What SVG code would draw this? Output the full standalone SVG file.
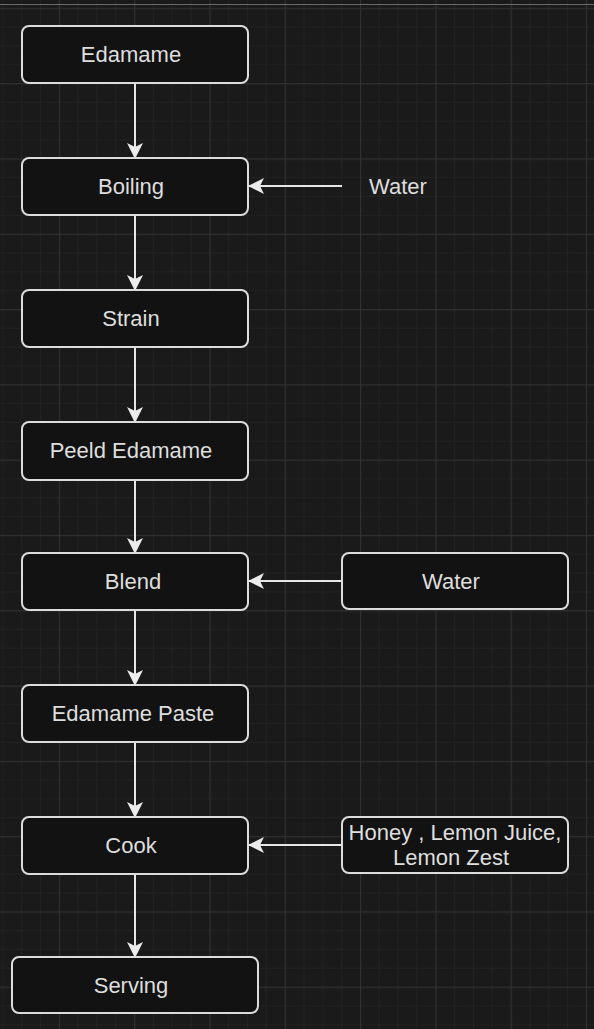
<svg xmlns="http://www.w3.org/2000/svg" width="594" height="1029" viewBox="0 0 594 1029">
  <style>
    .box { fill: #121212; stroke: #dcdcdc; stroke-width: 2; }
    .lbl { font-family: "Liberation Sans", Arial, sans-serif; font-size: 22px; fill: #dedede; text-anchor: middle; }
    .edge { stroke: #e6e6e6; stroke-width: 2; fill: none; marker-end: url(#arrow); }
  </style>
  <defs>
    <!-- background grid: 4 minor cells per major cell -->
    <pattern id="grid" patternUnits="userSpaceOnUse" x="58.8" y="7.8" width="75.3" height="75.3">
      <rect width="75.3" height="75.3" fill="#1a1a1a"/>
      <g fill="#212121">
        <rect x="18.8" y="0" width="1" height="75.3"/>
        <rect x="37.6" y="0" width="1" height="75.3"/>
        <rect x="56.4" y="0" width="1" height="75.3"/>
        <rect x="0" y="18.8" width="75.3" height="1"/>
        <rect x="0" y="37.6" width="75.3" height="1"/>
        <rect x="0" y="56.4" width="75.3" height="1"/>
      </g>
      <g fill="#303030">
        <rect x="0" y="0" width="1.2" height="75.3"/>
        <rect x="0" y="0" width="75.3" height="1.2"/>
      </g>
    </pattern>
    <marker id="arrow" markerUnits="userSpaceOnUse" viewBox="0 0 16 16" refX="15" refY="8" markerWidth="16" markerHeight="16" orient="auto">
      <path d="M0,0 L16,8 L0,16 L4,8 Z" fill="#ececec"/>
    </marker>
  </defs>

  <rect width="594" height="1029" fill="url(#grid)"/>
  <rect x="0" y="4" width="594" height="1" fill="#6a6a6a"/>

  <g id="connectors">
    <line class="edge" x1="135" y1="83" x2="135" y2="158"/>
    <line class="edge" x1="342" y1="186" x2="249" y2="186"/>
    <line class="edge" x1="135" y1="215" x2="135" y2="290"/>
    <line class="edge" x1="135" y1="347" x2="135" y2="422"/>
    <line class="edge" x1="135" y1="480" x2="135" y2="553"/>
    <line class="edge" x1="342" y1="581" x2="249" y2="581"/>
    <line class="edge" x1="135" y1="610" x2="135" y2="685"/>
    <line class="edge" x1="135" y1="742" x2="135" y2="817"/>
    <line class="edge" x1="342" y1="845" x2="249" y2="845"/>
    <line class="edge" x1="135" y1="874" x2="135" y2="957"/>
  </g>

  <g id="edamame">
    <rect class="box" x="22" y="26" width="226" height="57" rx="7"/>
    <text class="lbl" x="131" y="62">Edamame</text>
  </g>
  <g id="boiling">
    <rect class="box" x="22" y="158" width="226" height="57" rx="7"/>
    <text class="lbl" x="131" y="194">Boiling</text>
  </g>
  <g id="water-label">
    <text class="lbl" x="398" y="194">Water</text>
  </g>
  <g id="strain">
    <rect class="box" x="22" y="290" width="226" height="57" rx="7"/>
    <text class="lbl" x="131" y="326">Strain</text>
  </g>
  <g id="peeld-edamame">
    <rect class="box" x="22" y="422" width="226" height="58" rx="7"/>
    <text class="lbl" x="131" y="458">Peeld Edamame</text>
  </g>
  <g id="blend">
    <rect class="box" x="22" y="553" width="226" height="57" rx="7"/>
    <text class="lbl" x="133" y="589">Blend</text>
  </g>
  <g id="water">
    <rect class="box" x="342" y="553" width="226" height="56" rx="7"/>
    <text class="lbl" x="451" y="589">Water</text>
  </g>
  <g id="edamame-paste">
    <rect class="box" x="22" y="685" width="226" height="57" rx="7"/>
    <text class="lbl" x="133" y="721">Edamame Paste</text>
  </g>
  <g id="cook">
    <rect class="box" x="22" y="817" width="226" height="57" rx="7"/>
    <text class="lbl" x="131" y="853">Cook</text>
  </g>
  <g id="honey-lemon">
    <rect class="box" x="342" y="817" width="226" height="56" rx="7"/>
    <text class="lbl" x="455" y="840">Honey , Lemon Juice,</text>
    <text class="lbl" x="451" y="865">Lemon Zest</text>
  </g>
  <g id="serving">
    <rect class="box" x="12" y="957" width="246" height="56" rx="7"/>
    <text class="lbl" x="131" y="993">Serving</text>
  </g>
</svg>
